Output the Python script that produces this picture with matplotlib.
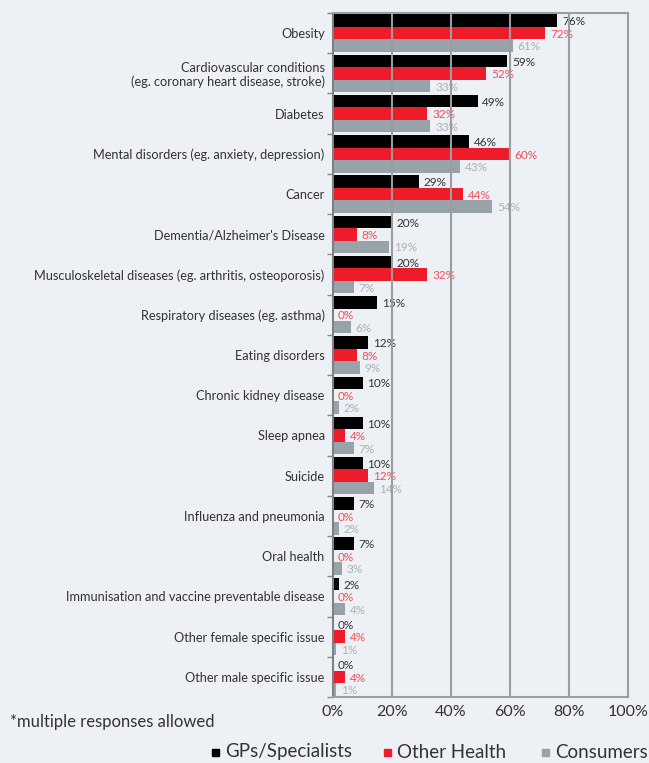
import matplotlib
matplotlib.use("Agg")
import matplotlib.pyplot as plt
import numpy as np
from matplotlib.patches import Rectangle
from matplotlib import transforms

categories = [
    "Obesity",
    "Cardiovascular conditions\n(eg. coronary heart disease, stroke)",
    "Diabetes",
    "Mental disorders (eg. anxiety, depression)",
    "Cancer",
    "Dementia/Alzheimer's Disease",
    "Musculoskeletal diseases (eg. arthritis, osteoporosis)",
    "Respiratory diseases (eg. asthma)",
    "Eating disorders",
    "Chronic kidney disease",
    "Sleep apnea",
    "Suicide",
    "Influenza and pneumonia",
    "Oral health",
    "Immunisation and vaccine preventable disease",
    "Other female specific issue",
    "Other male specific issue",
]
gps = [76, 59, 49, 46, 29, 20, 20, 15, 12, 10, 10, 10, 7, 7, 2, 0, 0]
other_health = [72, 52, 32, 60, 44, 8, 32, 0, 8, 0, 4, 12, 0, 0, 0, 4, 4]
consumers = [61, 33, 33, 43, 54, 19, 7, 6, 9, 2, 7, 14, 2, 3, 4, 1, 1]
series_names = ["GPs/Specialists", "Other Health", "Consumers"]
xticks = [0, 20, 40, 60, 80, 100]

plt.rcParams['font.family'] = ['Lato', 'DejaVu Sans']

BG = "#edf0f4"
TXT = "#333333"
bar_colors = ["#000000", "#ee1c2b", "#97a3a9"]
label_colors = ["#333333", "#f0505a", "#aab1b6"]

W, H = 649, 763
fig = plt.figure(figsize=(W / 100, H / 100), dpi=100, facecolor=BG)
ax = fig.add_axes([333 / W, 1 - 697 / H, 295 / W, 684 / H])
ax.set_facecolor(BG)

n = len(categories)
y = np.arange(n)
bh = 0.31
offsets = [-bh, 0, bh]
series = [gps, other_health, consumers]

offset_tr = transforms.offset_copy(ax.transData, fig=fig, x=3.5, y=0, units='points')
for s, vals in enumerate(series):
    ax.barh(y + offsets[s], vals, height=bh, color=bar_colors[s],
            edgecolor="none", zorder=2)
    for i, v in enumerate(vals):
        ax.text(v, y[i] + offsets[s] + 0.03, f"{v}%", transform=offset_tr,
                color=label_colors[s], fontsize=8.5, va="center", ha="left",
                zorder=1)

ax.set_xlim(0, 100)
ax.set_ylim(n - 0.5, -0.5)
ax.set_xticks(xticks)
ax.set_xticklabels([f"{t}%" for t in xticks], fontsize=11.5, color=TXT)
ax.tick_params(axis='x', length=0, pad=6)
for t in xticks[1:-1]:
    ax.axvline(t, color="#9a9ea2", lw=1.5, zorder=3)

ax.set_yticks(y)
ax.set_yticklabels(categories, fontsize=9.2, color=TXT, linespacing=1.1)
ax.tick_params(axis='y', which='major', length=0, pad=6)
ax.set_yticks(np.arange(n + 1) - 0.5, minor=True)
ax.tick_params(axis='y', which='minor', length=4, color="#888888", width=1)

for sp in ["top", "right", "left", "bottom"]:
    ax.spines[sp].set_color("#9a9ea2")
    ax.spines[sp].set_linewidth(1.5)
ax.spines["left"].set_color("#7d8185")

fig.text(10 / W, 1 - 722 / H, "*multiple responses allowed", fontsize=12,
         color=TXT, va="center", ha="left")

# legend
leg_x = [212, 384, 542]
for s in range(3):
    fig.patches.append(Rectangle(((leg_x[s]) / W, 1 - 756 / H), 7 / W, 7 / H,
                                 transform=fig.transFigure, color=bar_colors[s]))
    fig.text((leg_x[s] + 13) / W, 1 - 752 / H, series_names[s], fontsize=13.5,
             color=TXT, va="center", ha="left")

fig.savefig("out.png", dpi=100, facecolor=BG)
